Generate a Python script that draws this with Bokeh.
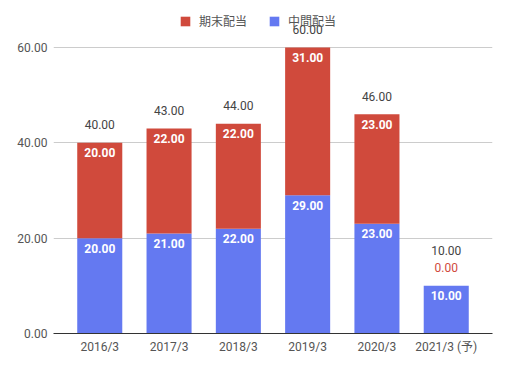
from bokeh.plotting import figure
from bokeh.models import (ColumnDataSource, FactorRange, FixedTicker, NumeralTickFormatter,
                          Legend, LegendItem, Range1d)
from bokeh.core.properties import value
from bokeh.embed import file_html
from bokeh.resources import INLINE

categories = ["2016/3", "2017/3", "2018/3", "2019/3", "2020/3", "2021/3 (予)"]
interim = [20, 21, 22, 29, 23, 10]   # 中間配当
final = [20, 22, 22, 31, 23, 0]      # 期末配当

RED = "#d04a3c"
BLUE = "#6479f1"
FONT = "Roboto, 'Noto Sans CJK JP'"

totals = [a + b for a, b in zip(interim, final)]

src = ColumnDataSource(dict(cat=categories, interim=interim, final=final, total=totals))

# frame spans page y 14..333; 0..60 maps to 333..47
y_top = 60 * (333 - 14) / (333 - 47)

p = figure(x_range=FactorRange(*categories, range_padding=0.335 / 6),
           y_range=Range1d(0, y_top), width=500, height=361,
           output_backend="svg", toolbar_location=None,
           min_border_left=53, min_border_right=8, min_border_top=14, min_border_bottom=28)
p.outline_line_color = None
p.background_fill_color = "white"

r_int = p.vbar(x="cat", bottom=0, top="interim", width=0.65, fill_color=BLUE,
               line_color=None, source=src)
r_fin = p.vbar(x="cat", bottom="interim", top="total", width=0.65, fill_color=RED,
               line_color=None, source=src)

inside_int = dict(x=[], y=[], t=[])
inside_fin = dict(x=[], y=[], t=[])
above_fin = dict(x=[], y=[], t=[])
tot_norm = dict(x=[], y=[], t=[])
tot_high = dict(x=[], y=[], t=[])
for c, a, b, t in zip(categories, interim, final, totals):
    inside_int["x"].append(c); inside_int["y"].append(a); inside_int["t"].append(f"{a:.2f}")
    if b > 0:
        inside_fin["x"].append(c); inside_fin["y"].append(t); inside_fin["t"].append(f"{b:.2f}")
        tot_norm["x"].append(c); tot_norm["y"].append(t); tot_norm["t"].append(f"{t:.2f}")
    else:
        above_fin["x"].append(c); above_fin["y"].append(t); above_fin["t"].append(f"{b:.2f}")
        tot_high["x"].append(c); tot_high["y"].append(t); tot_high["t"].append(f"{t:.2f}")

common = dict(text_align="center", text_baseline="middle", text_font=value(FONT),
              text_font_size="12px")
p.text(x="x", y="y", text="t", source=ColumnDataSource(inside_int), y_offset=10,
       text_color="white", text_font_style="bold", **common)
p.text(x="x", y="y", text="t", source=ColumnDataSource(inside_fin), y_offset=10,
       text_color="white", text_font_style="bold", **common)
p.text(x="x", y="y", text="t", source=ColumnDataSource(above_fin), y_offset=-18,
       text_color=RED, **common)
p.text(x="x", y="y", text="t", source=ColumnDataSource(tot_norm), y_offset=-18,
       text_color="#444444", **common)
p.text(x="x", y="y", text="t", source=ColumnDataSource(tot_high), y_offset=-35,
       text_color="#444444", **common)

p.yaxis.ticker = FixedTicker(ticks=[0, 20, 40, 60])
p.yaxis.formatter = NumeralTickFormatter(format="0.00")
p.yaxis.axis_line_color = None
p.yaxis.major_tick_line_color = None
p.yaxis.minor_tick_line_color = None
p.yaxis.major_tick_out = 0
p.yaxis.major_label_standoff = 6
p.yaxis.major_label_text_font = FONT
p.yaxis.major_label_text_font_size = "12px"
p.yaxis.major_label_text_color = "#555555"

p.xaxis.axis_line_color = "#333333"
p.xaxis.major_tick_line_color = None
p.xaxis.minor_tick_line_color = None
p.xaxis.major_tick_out = 0
p.xaxis.major_label_standoff = 6
p.xaxis.major_label_text_font = FONT
p.xaxis.major_label_text_font_size = "12px"
p.xaxis.major_label_text_color = "#555555"

p.xgrid.grid_line_color = None
p.ygrid.grid_line_color = "#cccccc"

legend = Legend(items=[LegendItem(label="期末配当", renderers=[r_fin]),
                       LegendItem(label="中間配当", renderers=[r_int])],
                orientation="horizontal", location=(126, 304),
                padding=0, margin=0, spacing=21, label_standoff=8,
                glyph_width=12, glyph_height=12, label_height=12,
                border_line_color=None, background_fill_alpha=0,
                label_text_font=FONT, label_text_font_size="12px",
                label_text_color="#555555")
p.add_layout(legend, "center")

open("out.html", "w").write(file_html(p, INLINE))
